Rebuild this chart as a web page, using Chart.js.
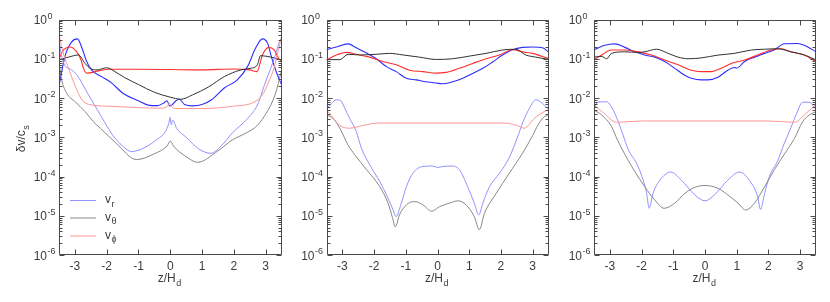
<!DOCTYPE html>
<html>
<head>
<meta charset="utf-8">
<script src="https://cdn.jsdelivr.net/npm/chart.js@4.4.1/dist/chart.umd.min.js"></script>
<style>
  html, body { margin: 0; padding: 0; background: #fff; }
  #wrap { position: relative; width: 830px; height: 302px; }
  #wrap canvas { position: absolute; left: 0; top: 0; }
</style>
</head>
<body>
<div id="wrap">
  <canvas id="p1" width="830" height="302"></canvas>
  <canvas id="p2" width="830" height="302"></canvas>
  <canvas id="p3" width="830" height="302"></canvas>
</div>
<script>
// Axes
const zTicks = [-3, -2, -1, 0, 1, 2, 3];
const yExps = [-6, -5, -4, -3, -2, -1, 0];
const legendLabels = [['v', 'r'], ['v', 'θ'], ['v', 'ϕ']];

// Panel 1  [z/H_d, dv/c_s]
const p1VrBold = [[-3.5,0.02],[-3.42,0.045],[-3.3,0.125],[-3.1,0.27],[-2.92,0.32],[-2.78,0.19],[-2.63,0.085],[-2.47,0.051],[-2.16,0.035],[-1.84,0.024],[-1.48,0.013],[-1.0,0.0085],[-0.7,0.0066],[-0.4,0.0064],[-0.2,0.0075],[-0.1,0.0085],[-0.02,0.0063],[0.05,0.0066],[0.18,0.0085],[0.29,0.0093],[0.45,0.0068],[0.7,0.0063],[1.0,0.0068],[1.3,0.009],[1.7,0.018],[2.11,0.029],[2.43,0.063],[2.69,0.19],[2.9,0.32],[3.06,0.25],[3.2,0.1],[3.37,0.039],[3.5,0.022]];
const p1VthBold = [[-3.5,0.095],[-3.2,0.11],[-2.89,0.125],[-2.68,0.076],[-2.52,0.057],[-2.3,0.052],[-2.0,0.059],[-1.74,0.047],[-1.43,0.033],[-1.0,0.022],[-0.5,0.014],[0,0.0105],[0.34,0.0093],[0.7,0.012],[1.2,0.019],[1.7,0.035],[2.22,0.052],[2.53,0.057],[2.74,0.07],[2.84,0.12],[3.16,0.11],[3.37,0.1],[3.5,0.09]];
const p1VphBold = [[-3.5,0.1],[-3.35,0.17],[-3.15,0.2],[-2.94,0.15],[-2.8,0.09],[-2.73,0.057],[-2.63,0.043],[-2.26,0.049],[-1.95,0.054],[-1.0,0.054],[0,0.053],[1.0,0.052],[2.0,0.055],[2.5,0.052],[2.73,0.047],[2.9,0.125],[3.1,0.195],[3.26,0.17],[3.42,0.1],[3.5,0.09]];
const p1VrThin = [[-3.5,0.3],[-3.42,0.12],[-3.3,0.065],[-3.15,0.055],[-2.95,0.04],[-2.78,0.024],[-2.57,0.012],[-2.26,0.0045],[-2.05,0.0023],[-1.8,0.0011],[-1.5,0.0006],[-1.22,0.00043],[-0.8,0.00055],[-0.4,0.0009],[-0.15,0.0014],[-0.05,0.0022],[0.0,0.0032],[0.03,0.0021],[0.08,0.0027],[0.2,0.0017],[0.5,0.001],[0.9,0.0005],[1.28,0.00039],[1.6,0.0006],[1.96,0.0013],[2.43,0.003],[2.74,0.0066],[3.0,0.026],[3.16,0.057],[3.3,0.12],[3.42,0.25],[3.5,0.35]];
const p1VthThin = [[-3.5,0.08],[-3.42,0.03],[-3.25,0.013],[-2.99,0.008],[-2.68,0.0045],[-2.42,0.0025],[-2.2,0.0017],[-1.7,0.0007],[-1.06,0.00027],[-0.5,0.00038],[-0.1,0.0006],[0,0.0008],[0.1,0.0006],[0.5,0.00032],[0.86,0.00023],[1.5,0.00045],[1.95,0.00085],[2.4,0.0013],[2.74,0.002],[3.05,0.0045],[3.26,0.01],[3.37,0.019],[3.5,0.05]];
const p1VphThin = [[-3.5,0.4],[-3.35,0.125],[-3.2,0.057],[-3.0,0.021],[-2.78,0.009],[-2.57,0.0069],[-2.0,0.0062],[-1.0,0.0057],[-0.3,0.0055],[-0.1,0.006],[-0.03,0.0075],[0.05,0.006],[0.15,0.0054],[1.0,0.0054],[2.0,0.0062],[2.63,0.0078],[2.9,0.012],[3.1,0.026],[3.26,0.057],[3.42,0.19],[3.5,0.35]];

// Panel 2
const p2VrBold = [[-3.5,0.17],[-3.19,0.2],[-2.82,0.24],[-2.56,0.19],[-2.24,0.14],[-1.93,0.1],[-1.61,0.063],[-1.3,0.047],[-0.99,0.032],[-0.67,0.029],[-0.36,0.026],[-0.04,0.024],[0.17,0.023],[0.48,0.026],[0.8,0.032],[1.11,0.042],[1.43,0.057],[1.74,0.083],[2.05,0.124],[2.37,0.17],[2.68,0.195],[3.0,0.2],[3.31,0.19],[3.5,0.15]];
const p2VthBold = [[-3.5,0.095],[-3.08,0.095],[-2.82,0.13],[-2.45,0.125],[-1.93,0.13],[-1.51,0.137],[-1.09,0.125],[-0.57,0.11],[-0.04,0.096],[0.48,0.1],[1.01,0.117],[1.53,0.137],[2.05,0.167],[2.47,0.175],[2.78,0.125],[3.1,0.11],[3.5,0.096]];
const p2VphBold = [[-3.5,0.093],[-3.19,0.125],[-2.87,0.145],[-2.56,0.13],[-2.14,0.11],[-1.72,0.085],[-1.3,0.07],[-0.88,0.051],[-0.46,0.047],[-0.04,0.043],[0.27,0.045],[0.69,0.057],[1.11,0.076],[1.53,0.1],[1.95,0.125],[2.37,0.17],[2.68,0.15],[3.0,0.137],[3.5,0.1]];
const p2VrThin = [[-3.5,0.0054],[-3.34,0.0073],[-3.19,0.009],[-3.05,0.0085],[-2.9,0.005],[-2.77,0.003],[-2.56,0.0014],[-2.4,0.00053],[-2.14,0.0002],[-1.82,0.000074],[-1.56,0.000028],[-1.4,0.000014],[-1.31,0.0000095],[-1.14,0.000021],[-0.98,0.000055],[-0.78,0.00012],[-0.46,0.00018],[-0.15,0.000185],[0,0.00017],[0.17,0.00018],[0.43,0.000185],[0.69,0.00015],[0.95,0.000055],[1.16,0.000021],[1.3,0.0000105],[1.43,0.000021],[1.64,0.000055],[1.95,0.00012],[2.26,0.0003],[2.5,0.0009],[2.7,0.0025],[2.9,0.0055],[3.1,0.009],[3.31,0.0073],[3.5,0.0052]];
const p2VthThin = [[-3.5,0.0037],[-3.29,0.003],[-3.08,0.0017],[-2.82,0.00063],[-2.61,0.00036],[-2.24,0.00015],[-1.82,0.000055],[-1.56,0.000021],[-1.42,0.000009],[-1.33,0.0000052],[-1.2,0.0000105],[-0.98,0.000019],[-0.72,0.000023],[-0.46,0.000019],[-0.18,0.000013],[0.06,0.000017],[0.38,0.000021],[0.64,0.000024],[0.9,0.000019],[1.16,0.0000095],[1.32,0.0000044],[1.48,0.0000115],[1.85,0.000037],[2.26,0.00012],[2.68,0.00039],[3.0,0.0011],[3.16,0.002],[3.36,0.0033],[3.5,0.0036]];
const p2VphThin = [[-3.5,0.005],[-3.3,0.0032],[-3.08,0.002],[-2.77,0.0017],[-2.35,0.002],[-1.88,0.0023],[-1,0.0023],[0,0.0023],[1,0.0023],[2.1,0.0023],[2.5,0.002],[2.74,0.0017],[3.05,0.003],[3.36,0.0045],[3.5,0.005]];

// Panel 3
const p3VrBold = [[-3.5,0.17],[-3.16,0.22],[-2.84,0.24],[-2.53,0.195],[-2.21,0.15],[-1.9,0.124],[-1.58,0.11],[-1.27,0.085],[-0.95,0.057],[-0.64,0.038],[-0.43,0.032],[-0.12,0.029],[0.09,0.029],[0.41,0.034],[0.72,0.051],[0.93,0.06],[1.0,0.058],[1.25,0.085],[1.56,0.11],[1.88,0.137],[2.19,0.17],[2.5,0.24],[2.92,0.245],[3.24,0.2],[3.5,0.15]];
const p3VthBold = [[-3.5,0.11],[-3.26,0.115],[-3.1,0.1],[-2.95,0.137],[-2.53,0.15],[-2.1,0.145],[-1.9,0.15],[-1.53,0.175],[-1.16,0.137],[-0.85,0.11],[-0.53,0.1],[-0.12,0.105],[0.41,0.124],[0.93,0.137],[1.46,0.167],[1.88,0.175],[2.3,0.18],[2.71,0.15],[3.13,0.125],[3.5,0.093]];
const p3VphBold = [[-3.5,0.096],[-3.26,0.125],[-2.95,0.167],[-2.53,0.167],[-2.1,0.15],[-1.69,0.124],[-1.27,0.093],[-0.85,0.07],[-0.43,0.051],[-0.12,0.047],[0.2,0.047],[0.51,0.057],[0.83,0.076],[1.25,0.093],[1.66,0.125],[2.08,0.167],[2.4,0.18],[2.71,0.15],[3.13,0.125],[3.5,0.085]];
const p3VrThin = [[-3.5,0.0055],[-3.37,0.0079],[-3.1,0.008],[-2.98,0.0065],[-2.84,0.004],[-2.68,0.0019],[-2.53,0.00085],[-2.42,0.00048],[-2.16,0.00022],[-1.95,0.000081],[-1.84,0.000037],[-1.76,0.0000155],[-1.64,0.000037],[-1.42,0.000081],[-1.08,0.00013],[-0.74,0.00008],[-0.32,0.000034],[0,0.000024],[0.3,0.000034],[0.72,0.000081],[1.09,0.00013],[1.45,0.00007],[1.66,0.000031],[1.75,0.0000145],[1.88,0.000037],[2.03,0.0001],[2.3,0.00026],[2.5,0.0007],[2.66,0.0014],[2.87,0.0037],[3.08,0.0078],[3.29,0.0078],[3.5,0.005]];
const p3VthThin = [[-3.5,0.0049],[-3.26,0.0037],[-2.95,0.0019],[-2.76,0.00085],[-2.31,0.00018],[-1.9,0.000055],[-1.58,0.000025],[-1.29,0.0000155],[-0.95,0.000021],[-0.64,0.000037],[-0.32,0.000053],[0,0.000059],[0.41,0.00005],[0.72,0.000034],[1.04,0.000021],[1.28,0.000014],[1.56,0.000021],[1.88,0.000055],[2.19,0.00015],[2.5,0.00037],[2.82,0.00093],[3.08,0.0025],[3.29,0.0037],[3.5,0.0045]];
const p3VphThin = [[-3.5,0.0066],[-3.2,0.0042],[-2.79,0.0024],[-2,0.0026],[0,0.0026],[2,0.0026],[2.82,0.0024],[3.19,0.0041],[3.5,0.0068]];

// Estilo
const COLORS = {
    vrBold: 'rgb(45,45,255)',
    vthBold: 'rgb(50,50,50)',
    vphBold: 'rgb(255,45,45)',
    vrThin: 'rgb(145,145,255)',
    vthThin: 'rgb(135,135,135)',
    vphThin: 'rgb(255,150,150)'
};
const AXIS = '#4a4a4a';
const TEXT = '#3c3c3c';
const FONT = "'Liberation Sans', Arial, Helvetica, sans-serif";
const PLOT_TOP = 19.5, PLOT_BOTTOM = 255;

const toPts = (arr) => arr.map(p => ({ x: p[0], y: p[1] }));

function line(data, color, width) {
    return {
        data: toPts(data),
        borderColor: color,
        borderWidth: width,
        pointRadius: 0,
        fill: false,
        cubicInterpolationMode: 'monotone'
    };
}

// Texto con super/subíndice
function drawScript(ctx, base, script, x, y, size, up, align) {
    ctx.font = `${size}px ${FONT}`;
    const wb = ctx.measureText(base).width;
    ctx.font = `${Math.round(size * 0.72)}px ${FONT}`;
    const ws = ctx.measureText(script).width;
    let x0 = x;
    if (align === 'center') x0 = x - (wb + ws) / 2;
    if (align === 'right') x0 = x - wb;
    ctx.textAlign = 'left';
    ctx.textBaseline = 'alphabetic';
    ctx.font = `${size}px ${FONT}`;
    ctx.fillText(base, x0, y);
    ctx.font = `${Math.round(size * 0.72)}px ${FONT}`;
    ctx.fillText(script, x0 + wb + 0.5, y + (up ? -size * 0.45 : size * 0.3));
}

const framePlugin = {
    id: 'frame',
    afterDraw(chart, args, opts) {
        const { ctx, chartArea: a, scales: { x, y } } = chart;
        const L = Math.round(a.left) + 0.5, R = Math.round(a.right) - 0.5;
        const T = Math.round(a.top) + 0.5, B = Math.round(a.bottom) - 0.5;
        ctx.save();
        ctx.strokeStyle = AXIS;
        ctx.lineWidth = 1;
        ctx.beginPath();
        ctx.rect(L, T, R - L, B - T);
        // x ticks, abajo y arriba
        zTicks.forEach(v => {
            const px = Math.round(x.getPixelForValue(v)) + 0.5;
            ctx.moveTo(px, B); ctx.lineTo(px, B - 5);
            ctx.moveTo(px, T); ctx.lineTo(px, T + 5);
        });
        // y ticks log
        yExps.forEach(e => {
            const py = Math.round(y.getPixelForValue(Math.pow(10, e))) + 0.5;
            ctx.moveTo(L, py); ctx.lineTo(L + 5, py);
            ctx.moveTo(R, py); ctx.lineTo(R - 5, py);
            if (e < 0) {
                for (let k = 2; k <= 9; k++) {
                    const pm = Math.round(y.getPixelForValue(k * Math.pow(10, e))) + 0.5;
                    ctx.moveTo(L, pm); ctx.lineTo(L + 3, pm);
                    ctx.moveTo(R, pm); ctx.lineTo(R - 3, pm);
                }
            }
        });
        ctx.stroke();

        ctx.fillStyle = TEXT;
        // etiquetas x
        ctx.font = `12px ${FONT}`;
        ctx.textAlign = 'center';
        ctx.textBaseline = 'alphabetic';
        zTicks.forEach(v => {
            ctx.fillText(String(v).replace('-', '-'), x.getPixelForValue(v), 269.5);
        });
        // etiquetas y
        yExps.forEach(e => {
            const py = y.getPixelForValue(Math.pow(10, e));
            drawScript(ctx, '10', String(e), a.left - 12, py + 4.5, 12, true, 'right');
        });
        // titulo x
        drawScript(ctx, 'z/H', 'd', (a.left + a.right) / 2 - 1, 282, 12, false, 'center');

        if (opts.yTitle) {
            ctx.save();
            ctx.translate(25, 139);
            ctx.rotate(-Math.PI / 2);
            drawScript(ctx, 'δv/c', 's', 0, 0, 12, false, 'center');
            ctx.restore();
        }

        if (opts.legend) {
            const ys = [200, 217.5, 235.5];
            const cols = [COLORS.vrThin, COLORS.vthThin, COLORS.vphThin];
            ys.forEach((ly, i) => {
                ctx.strokeStyle = cols[i];
                ctx.lineWidth = 1;
                ctx.beginPath();
                ctx.moveTo(70, ly + 0.5); ctx.lineTo(96, ly + 0.5);
                ctx.stroke();
                ctx.fillStyle = TEXT;
                drawScript(ctx, legendLabels[i][0], legendLabels[i][1], 105, ly + 3, 12, false, 'left');
            });
        }
        ctx.restore();
    }
};

function makePanel(id, left, right, series, extra) {
    return new Chart(document.getElementById(id), {
        type: 'line',
        data: {
            datasets: [
                line(series.vphThin, COLORS.vphThin, 1),
                line(series.vthThin, COLORS.vthThin, 1),
                line(series.vrThin, COLORS.vrThin, 1),
                line(series.vthBold, COLORS.vthBold, 1),
                line(series.vphBold, COLORS.vphBold, 1.1),
                line(series.vrBold, COLORS.vrBold, 1.1)
            ]
        },
        options: {
            responsive: false,
            animation: false,
            events: [],
            layout: { padding: { left: left, right: 830 - right, top: PLOT_TOP, bottom: 302 - PLOT_BOTTOM } },
            scales: {
                x: { type: 'linear', min: -3.5, max: 3.5, display: false },
                y: { type: 'logarithmic', min: 1e-6, max: 1, display: false }
            },
            plugins: {
                legend: { display: false },
                tooltip: { enabled: false },
                frame: extra
            }
        },
        plugins: [framePlugin]
    });
}

makePanel('p1', 59, 281.5, {
    vrBold: p1VrBold, vthBold: p1VthBold, vphBold: p1VphBold,
    vrThin: p1VrThin, vthThin: p1VthThin, vphThin: p1VphThin
}, { legend: true, yTitle: true });

makePanel('p2', 326.5, 548.5, {
    vrBold: p2VrBold, vthBold: p2VthBold, vphBold: p2VphBold,
    vrThin: p2VrThin, vthThin: p2VthThin, vphThin: p2VphThin
}, { legend: false, yTitle: false });

makePanel('p3', 594, 816, {
    vrBold: p3VrBold, vthBold: p3VthBold, vphBold: p3VphBold,
    vrThin: p3VrThin, vthThin: p3VthThin, vphThin: p3VphThin
}, { legend: false, yTitle: false });
</script>
</body>
</html>
